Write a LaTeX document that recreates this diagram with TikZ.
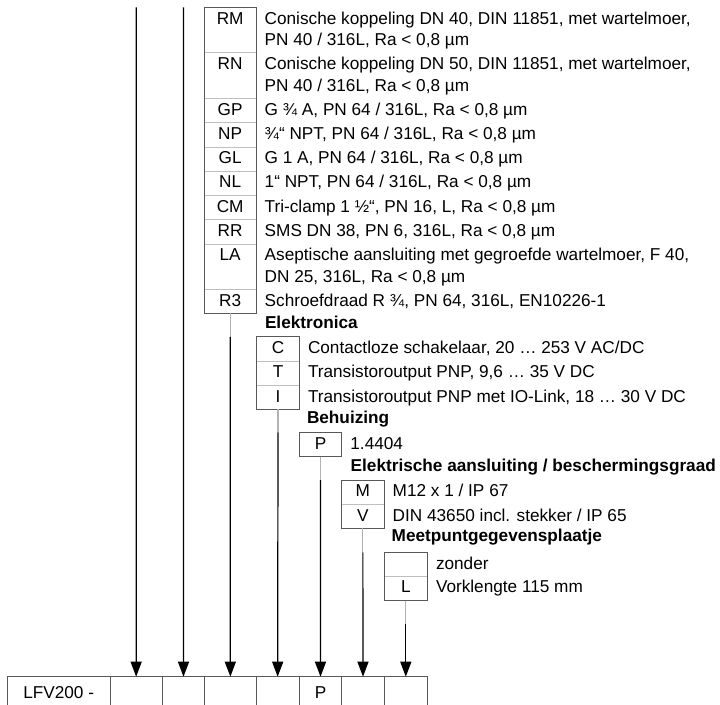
\documentclass[tikz,border=0pt]{standalone}
\usepackage{fontspec}
\setmainfont{Liberation Sans}
\usetikzlibrary{arrows.meta}
\newcommand\oneline[7]{% name, x1, x2, top, bottom, code, text
  \draw[divline] (#2,#4) rectangle (#3,#5);
  \node[codetxt] (#1c) at ({(#2+#3)/2},{#4+16.7}) {#6};
  \node[desctxt] (#1t) at ({#3+8.7},{#4+16.7}) {#7};
}
\newcommand\twoline[8]{% name, x1, x2, top, bottom, code, text1, text2
  \draw[divline] (#2,#4) rectangle (#3,#5);
  \node[codetxt] (#1c) at ({(#2+#3)/2},{#4+16.7}) {#6};
  \node[desctxt] (#1t) at ({#3+8.7},{#4+16.7}) {#7};
  \node[desctxt] (#1u) at ({#3+8.7},{#4+38.4}) {#8};
}
\begin{document}
\begin{tikzpicture}[x=0.75pt,y=-0.75pt,
  every node/.style={inner sep=0pt,outer sep=0pt},
  desctxt/.style={anchor=base west,font=\fontsize{12.9}{15}\selectfont},
  headtxt/.style={anchor=base west,font=\fontsize{12.9}{15}\selectfont\bfseries},
  codetxt/.style={anchor=base,font=\fontsize{12.9}{15}\selectfont},
  divline/.style={draw=black!25,line width=0.6pt},
  grpline/.style={draw=black!65,line width=0.6pt},
  bcell/.style={draw=black!65,line width=0.6pt,anchor=north west,minimum height=30pt},
  feedline/.style={draw=black!30,line width=0.9pt},
  leadline/.style={draw=black,line width=0.9pt,-{Triangle[length=11.25pt,width=8.25pt]}}
]
\useasboundingbox (0,0) rectangle (720,704);
\clip (0,0) rectangle (720,704);

% ---- group 1: process connection
\twoline{rm}{204.3}{256}{7.3}{52.8}{RM}{Conische koppeling DN 40, DIN 11851, met wartelmoer,}{PN 40 / 316L, Ra < 0,8 µm}
\twoline{rn}{204.3}{256}{52.8}{98.3}{RN}{Conische koppeling DN 50, DIN 11851, met wartelmoer,}{PN 40 / 316L, Ra < 0,8 µm}
\oneline{gp}{204.3}{256}{98.3}{122.6}{GP}{G ¾ A, PN 64 / 316L, Ra < 0,8 µm}
\oneline{np}{204.3}{256}{122.6}{146.9}{NP}{¾“ NPT, PN 64 / 316L, Ra < 0,8 µm}
\oneline{gl}{204.3}{256}{146.9}{171.2}{GL}{G 1 A, PN 64 / 316L, Ra < 0,8 µm}
\oneline{nl}{204.3}{256}{171.2}{195.5}{NL}{1“ NPT, PN 64 / 316L, Ra < 0,8 µm}
\oneline{cm}{204.3}{256}{195.5}{219.8}{CM}{Tri-clamp 1 ½“, PN 16, L, Ra < 0,8 µm}
\oneline{rr}{204.3}{256}{219.8}{244.1}{RR}{SMS DN 38, PN 6, 316L, Ra < 0,8 µm}
\twoline{la}{204.3}{256}{244.1}{289.6}{LA}{Aseptische aansluiting met gegroefde wartelmoer, F 40,}{DN 25, 316L, Ra < 0,8 µm}
\oneline{rt}{204.3}{256}{289.6}{313.4}{R3}{Schroefdraad R ¾, PN 64, 316L, EN10226-1}
\draw[grpline] (204.3,7.3) rectangle (256,313.4);
\coordinate (g1foot) at (230.15,313.4);

% ---- group 2: electronics
\node[headtxt] (h2) at (265,328.5) {Elektronica};
\oneline{c}{256.7}{299.3}{336.7}{361}{C}{Contactloze schakelaar, 20 … 253 V AC/DC}
\oneline{t}{256.7}{299.3}{361}{385.3}{T}{Transistoroutput PNP, 9,6 … 35 V DC}
\oneline{i}{256.7}{299.3}{385.3}{409}{I}{Transistoroutput PNP met IO-Link, 18 … 30 V DC}
\draw[grpline] (256.7,336.7) rectangle (299.3,409);
\coordinate (g2foot) at (278,409);

% ---- group 3: housing
\node[headtxt] (h3) at (307,423.3) {Behuizing};
\oneline{p}{299.3}{341.7}{432.7}{456.7}{P}{1.4404}
\draw[grpline] (299.3,432.7) rectangle (341.7,456.7);
\coordinate (g3foot) at (320.5,456.7);

% ---- group 4: electrical connection
\node[headtxt] (h4) at (350.7,471.5) {Elektrische aansluiting / beschermingsgraad};
\oneline{m}{341.7}{384}{480}{504.3}{M}{M12 x 1 / IP 67}
\oneline{v}{341.7}{384}{504.3}{528.3}{V}{DIN 43650 incl. stekker / IP 65}
\draw[grpline] (341.7,480) rectangle (384,528.3);
\coordinate (g4foot) at (362.85,528.3);

% ---- group 5: tag plate
\node[headtxt] (h5) at (391.7,541.3) {Meetpuntgegevensplaatje};
\oneline{z}{384.3}{427.3}{552.3}{576}{}{zonder}
\oneline{l}{384.3}{427.3}{576}{600.7}{L}{Vorklengte 115 mm}
\draw[grpline] (384.3,552.3) rectangle (427.3,600.7);
\coordinate (g5foot) at (405.8,600.7);

% ---- bottom order code row
\node[bcell,minimum width=77.03pt] (b1) at (7.3,676.7) {};
\node[bcell,minimum width=39.23pt] (b2) at (110,676.7) {};
\node[bcell,minimum width=31.8pt]  (b3) at (162.3,676.7) {};
\node[bcell,minimum width=38.48pt] (b4) at (204.7,676.7) {};
\node[bcell,minimum width=32.48pt] (b5) at (256,676.7) {};
\node[bcell,minimum width=31.8pt]  (b6) at (299.3,676.7) {};
\node[bcell,minimum width=31.95pt] (b7) at (341.7,676.7) {};
\node[bcell,minimum width=32.25pt] (b8) at (384.3,676.7) {};
\node[codetxt] (lfv) at (58.7,698) {LFV200 -};
\node[codetxt] (pfix) at (320.5,698) {P};

% ---- connectors
\coordinate (top2) at (136.15,7.3);
\coordinate (top3) at (183.5,7.3);
\draw[leadline] (top2) -- (b2.north);
\draw[leadline] (top3) -- (b3.north);
\draw[feedline] (g1foot) -- ++(0,23.5) coordinate (g1turn);
\draw[leadline] (g1turn) -- (b4.north);
\draw[feedline] (g2foot) -- ++(0,23.7) coordinate (g2turn);
\draw[leadline] (g2turn) -- (b5.north);
\draw[feedline] (g3foot) -- ++(0,23.3) coordinate (g3turn);
\draw[leadline] (g3turn) -- (b6.north);
\draw[feedline] (g4foot) -- ++(0,24) coordinate (g4turn);
\draw[leadline] (g4turn) -- (b7.north);
\draw[feedline] (g5foot) -- ++(0,23.3) coordinate (g5turn);
\draw[leadline] (g5turn) -- (b8.north);
\end{tikzpicture}
\end{document}
